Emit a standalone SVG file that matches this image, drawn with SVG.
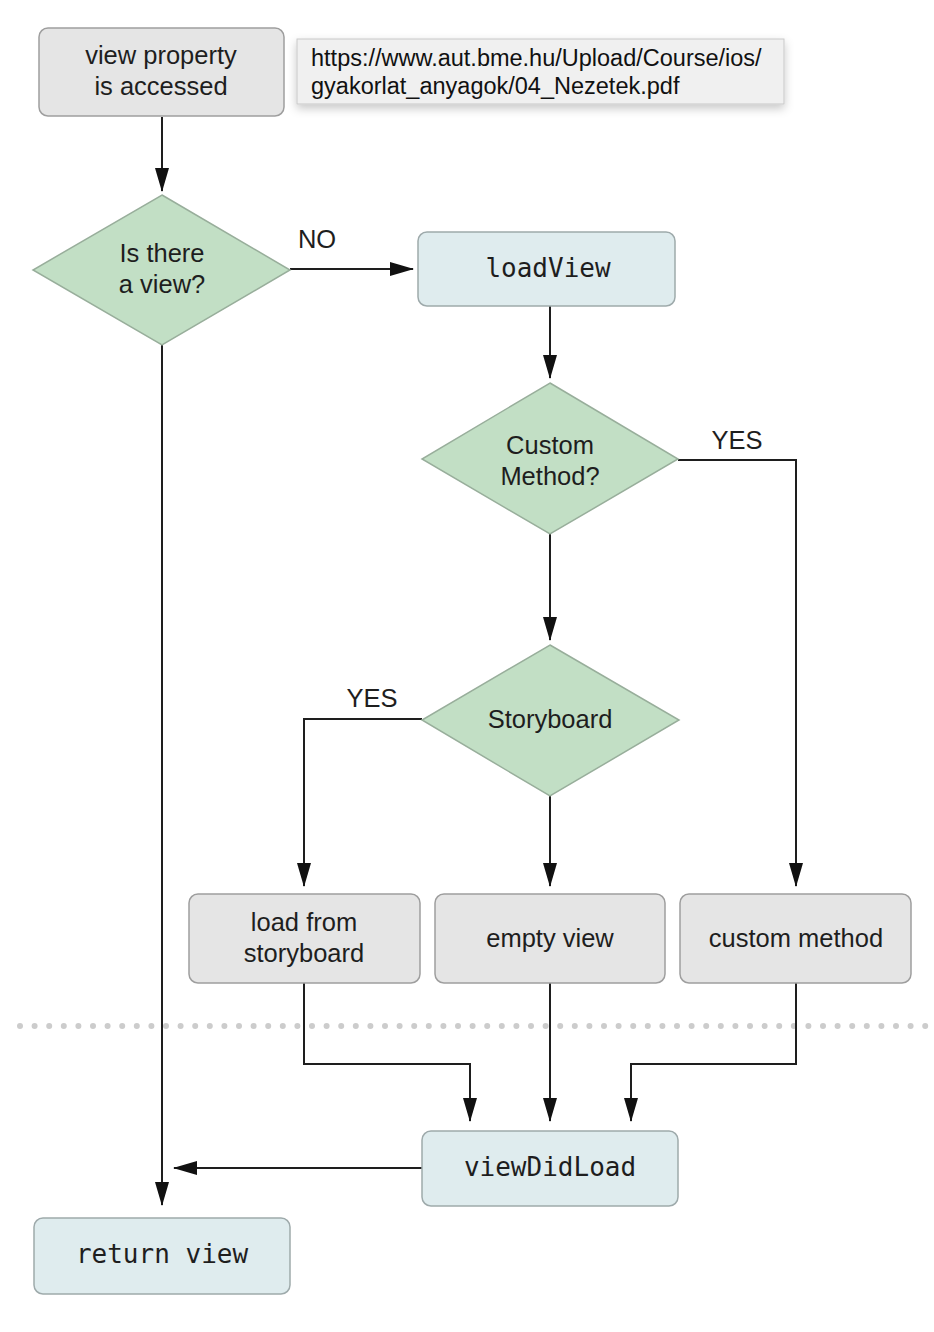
<svg xmlns="http://www.w3.org/2000/svg" width="934" height="1332" viewBox="0 0 934 1332">
<style>
.bg{fill:#ffffff}
.gbox{fill:#e5e5e5;stroke:#9e9e9e;stroke-width:1.5}
.bbox{fill:#dfecee;stroke:#9eaaab;stroke-width:1.5}
.dia{fill:#c2dfc5;stroke:#98ae9b;stroke-width:1.5}
.t{font-family:"Liberation Sans",Arial,sans-serif;font-size:25.5px;fill:#1e1e1e;text-anchor:middle}
.m{font-family:"DejaVu Sans Mono","Liberation Mono",monospace;font-size:26px;fill:#1e1e1e;text-anchor:middle}
.tip{font-family:"Liberation Sans",Arial,sans-serif;font-size:23.5px;fill:#111}
.c{fill:none;stroke:#1e1e1e;stroke-width:2}
.dots{fill:none;stroke:#cccccc;stroke-width:6;stroke-linecap:round;stroke-dasharray:0 14.6}
</style>
<defs>
<marker id="ah" markerUnits="userSpaceOnUse" markerWidth="24" markerHeight="14" viewBox="0 0 24 14" refX="23" refY="7" orient="auto">
<path d="M0,0 L24,7 L0,14 Z" fill="#111"/>
</marker>
<filter id="sh" x="-10%" y="-30%" width="120%" height="180%">
<feDropShadow dx="0" dy="4" stdDeviation="5" flood-color="#000" flood-opacity="0.22"/>
</filter>
</defs>
<rect class="bg" x="0" y="0" width="934" height="1332"/>
<path class="dots" d="M20,1026 L928,1026"/>
<g id="connectors">
<path class="c" d="M162,117 L162,191" marker-end="url(#ah)"/>
<path class="c" d="M290,269 L413,269" marker-end="url(#ah)"/>
<path class="c" d="M550,306 L550,378" marker-end="url(#ah)"/>
<path class="c" d="M678,460 L796,460 L796,886" marker-end="url(#ah)"/>
<path class="c" d="M550,534 L550,640" marker-end="url(#ah)"/>
<path class="c" d="M422,719 L304,719 L304,886" marker-end="url(#ah)"/>
<path class="c" d="M550,796 L550,886" marker-end="url(#ah)"/>
<path class="c" d="M304,983 L304,1064 L470,1064 L470,1121" marker-end="url(#ah)"/>
<path class="c" d="M550,983 L550,1121" marker-end="url(#ah)"/>
<path class="c" d="M796,983 L796,1064 L631,1064 L631,1121" marker-end="url(#ah)"/>
<path class="c" d="M422,1168 L174,1168" marker-end="url(#ah)"/>
<path class="c" d="M162,345 L162,1205" marker-end="url(#ah)"/>
<text class="t" x="317" y="248">NO</text>
<text class="t" x="737" y="449">YES</text>
<text class="t" x="372" y="707">YES</text>
</g>
<g id="start">
<rect class="gbox" x="39" y="28" width="245" height="88" rx="9"/>
<text class="t" x="161" y="64">view property</text>
<text class="t" x="161" y="95">is accessed</text>
</g>
<g id="tooltip">
<rect x="297" y="39" width="487" height="65" fill="#f0f0f0" stroke="#c8c8c8" stroke-width="1" filter="url(#sh)"/>
<text class="tip" x="311" y="66">https://www.aut.bme.hu/Upload/Course/ios/</text>
<text class="tip" x="311" y="94">gyakorlat_anyagok/04_Nezetek.pdf</text>
</g>
<g id="isView">
<polygon class="dia" points="162,195 290,270 162,345 33,270"/>
<text class="t" x="162" y="262">Is there</text>
<text class="t" x="162" y="293">a view?</text>
</g>
<g id="loadView">
<rect class="bbox" x="418" y="232" width="257" height="74" rx="9"/>
<text class="m" x="548" y="277">loadView</text>
</g>
<g id="customMethodQ">
<polygon class="dia" points="550,383 678,459 550,534 422,459"/>
<text class="t" x="550" y="454">Custom</text>
<text class="t" x="550" y="485">Method?</text>
</g>
<g id="storyboardQ">
<polygon class="dia" points="550,645 679,720 550,796 422,720"/>
<text class="t" x="550" y="728">Storyboard</text>
</g>
<g id="loadFromStoryboard">
<rect class="gbox" x="189" y="894" width="231" height="89" rx="9"/>
<text class="t" x="304" y="931">load from</text>
<text class="t" x="304" y="962">storyboard</text>
</g>
<g id="emptyView">
<rect class="gbox" x="435" y="894" width="230" height="89" rx="9"/>
<text class="t" x="550" y="947">empty view</text>
</g>
<g id="customMethod">
<rect class="gbox" x="680" y="894" width="231" height="89" rx="9"/>
<text class="t" x="796" y="947">custom method</text>
</g>
<g id="viewDidLoad">
<rect class="bbox" x="422" y="1131" width="256" height="75" rx="9"/>
<text class="m" x="550" y="1176">viewDidLoad</text>
</g>
<g id="returnView">
<rect class="bbox" x="34" y="1218" width="256" height="76" rx="9"/>
<text class="m" x="162" y="1263">return view</text>
</g>
</svg>
